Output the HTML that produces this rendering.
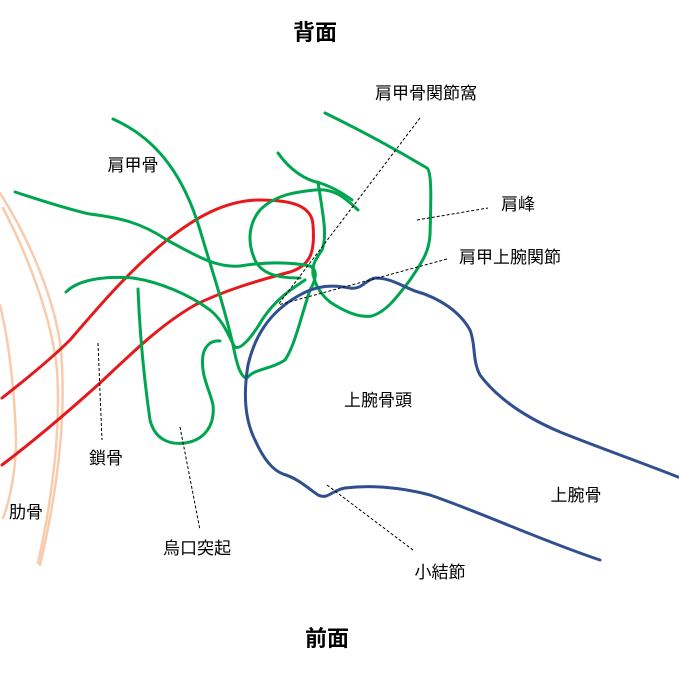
<!DOCTYPE html>
<html><head><meta charset="utf-8"><style>
html,body{margin:0;padding:0;background:#fff;}
svg{display:block;}
text{font-family:"Liberation Sans","Noto Sans CJK JP",sans-serif;font-size:17px;fill:#000;text-anchor:middle;}
</style></head><body>
<svg width="679" height="676" viewBox="0 0 679 676">
<g fill="none" stroke-linecap="round" stroke-linejoin="round">
<!-- ribs -->
<g stroke="#f8cbad" stroke-width="2.5">
<path d="M0,193 C30,240 55,300 61,350 C66,410 60,480 40,565"/>
<path d="M3,208 C30,260 52,320 57,370 C61,430 52,500 38,563"/>
<path d="M0,305 C10,345 15,400 16,440 C16,470 10,500 3,518"/>
</g>
<!-- red clavicle -->
<path stroke="#e41a1c" stroke-width="3" d="M2,398 C25,380 50,360 70,340 C100,305 130,270 167,240 C195,218 225,200 260,200 C290,200 312,205 313,225 C315,250 312,265 290,272 C260,280 225,290 195,305 C160,325 130,355 100,383 C70,410 35,440 2,465"/>
<!-- green scapula -->
<g stroke="#00a550" stroke-width="3">
<path d="M15,192 C40,200 70,210 90,214 C120,218 140,222 167,240 C195,255 215,268 240,266 C265,262 290,262 310,266 C318,270 316,280 310,290 C300,320 295,345 285,360 C270,370 255,368 247,378 C240,378 236,360 233,345 C225,310 215,280 200,230 C185,180 160,140 113,119"/>
<path d="M66,292 C80,278 110,276 133,278 C160,282 190,295 210,310 C225,322 230,340 235,347 C240,350 250,340 262,320 C275,300 290,290 305,280"/>
<path d="M138,289 C140,340 145,385 150,420 C155,440 170,445 185,443 C205,440 215,425 213,405 C210,390 200,375 203,355 C205,345 212,340 220,341"/>
<path d="M300,278 C280,278 262,275 255,260 C246,240 250,222 260,210 C275,195 295,192 315,190 C335,188 345,198 358,210"/>
<path d="M278,153 C290,170 305,180 320,183 C335,188 345,195 352,200"/>
<path d="M318,182 C322,210 328,235 322,250 C315,260 312,265 313,275"/>
<path d="M325,113 C360,130 400,152 427,168 C432,172 431,200 430,235 C429,250 425,258 410,280 C395,300 385,312 372,316 C360,318 345,312 330,302 C318,292 313,280 313,270"/>
</g>
<!-- blue humerus -->
<path stroke="#2f4f8f" stroke-width="3" d="M678,477 C640,462 600,448 560,432 C520,415 495,395 480,375 C472,360 476,345 470,330 C460,312 440,298 415,291 C400,285 390,278 375,278 C365,280 362,290 350,288 C335,285 318,284 298,296 C270,312 255,335 248,365 C243,395 245,420 255,440 C263,458 272,470 283,474 C297,478 308,488 318,495 C328,500 332,490 345,488 C370,485 400,487 430,495 C480,512 540,540 600,560"/>
</g>
<!-- dashed leaders -->
<g stroke="#000" stroke-width="1" stroke-dasharray="3,2" fill="none">
<line x1="420" y1="118" x2="278" y2="305"/>
<line x1="417" y1="220" x2="488" y2="208"/>
<line x1="447" y1="259" x2="278" y2="305"/>
<line x1="98" y1="343" x2="102" y2="440"/>
<line x1="180" y1="427" x2="200" y2="530"/>
<line x1="327" y1="485" x2="413" y2="550"/>
</g>
<text x="315" y="40" style="font-weight:bold;font-size:22px">背面</text>
<text x="327" y="646" style="font-weight:bold;font-size:22px">前面</text>
<text x="133" y="171">肩甲骨</text>
<text x="426" y="99">肩甲骨関節窩</text>
<text x="518" y="210">肩峰</text>
<text x="510" y="263">肩甲上腕関節</text>
<text x="378" y="406">上腕骨頭</text>
<text x="106" y="464">鎖骨</text>
<text x="26" y="518">肋骨</text>
<text x="197" y="554">烏口突起</text>
<text x="440" y="578">小結節</text>
<text x="576" y="501">上腕骨</text>
</svg>
</body></html>
